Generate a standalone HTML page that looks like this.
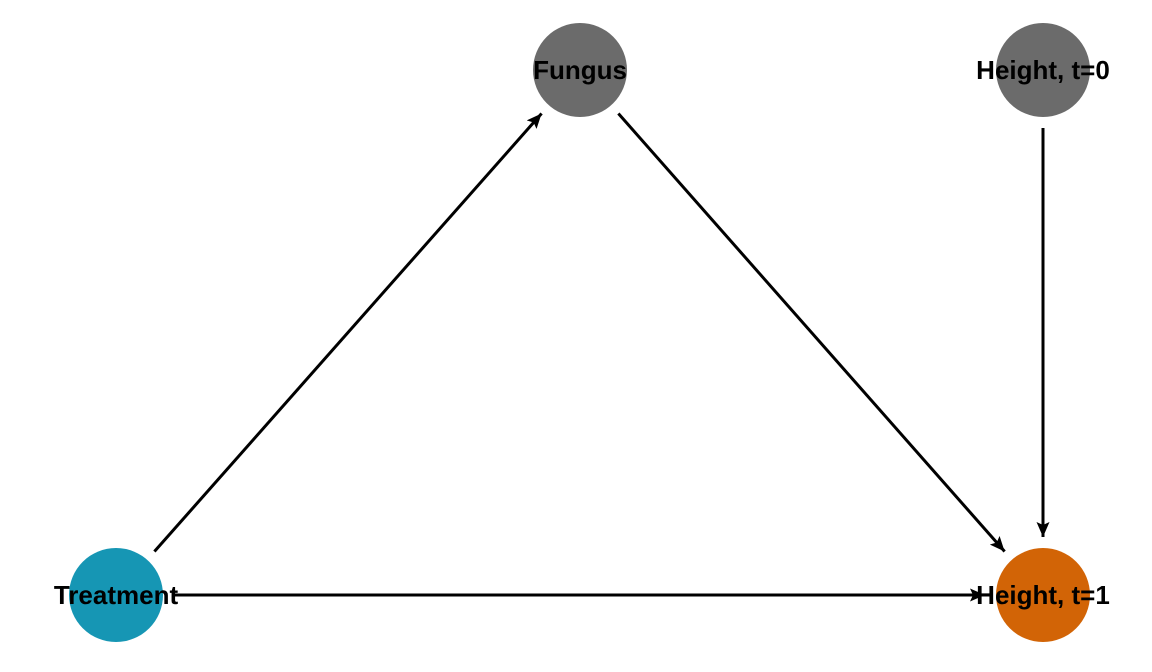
<!DOCTYPE html>
<html><head><meta charset="utf-8"><style>
html,body{margin:0;padding:0;background:#fff;}
svg{display:block;font-family:"Liberation Sans",Arial,sans-serif;}
</style></head><body>
<svg id="dag" width="1152" height="672" viewBox="0 0 1152 672">
<defs>
<marker id="arr" viewBox="0 0 10 10" refX="10" refY="5" markerWidth="15" markerHeight="13" markerUnits="userSpaceOnUse" orient="auto" preserveAspectRatio="none">
<path d="M0,0 L10,5 L0,10 L2,5 z" fill="#000"/>
</marker>
</defs>
<g id="nodes"></g><g id="edges"></g><g id="labels"></g>
</svg>
<script>
const nodeNames = ["Fungus","Height, t=0","Treatment","Height, t=1"];
const nodeX = [580,1043,116,1043];
const nodeY = [70,70,595,595];
const nodeColors = ["#6b6b6b","#6b6b6b","#1696b4","#d26406"];
const edgeFrom = [2,0,1,2];
const edgeTo = [0,3,3,3];
const R = 47, SHORT = 58;
const ns = "http://www.w3.org/2000/svg";
const gN = document.getElementById("nodes"), gE = document.getElementById("edges"), gL = document.getElementById("labels");
nodeNames.forEach((n,i)=>{
  const c = document.createElementNS(ns,"circle");
  c.setAttribute("cx",nodeX[i]); c.setAttribute("cy",nodeY[i]); c.setAttribute("r",R);
  c.setAttribute("fill",nodeColors[i]);
  
  
  gN.appendChild(c);
  const t = document.createElementNS(ns,"text");
  t.setAttribute("x",nodeX[i]); t.setAttribute("y",nodeY[i]+9);
  t.setAttribute("text-anchor","middle"); t.setAttribute("font-size","26"); t.setAttribute("font-weight","bold");
  t.textContent = n;
  
  
  gL.appendChild(t);
});
edgeFrom.forEach((f,k)=>{
  const t = edgeTo[k];
  const dx = nodeX[t]-nodeX[f], dy = nodeY[t]-nodeY[f], L = Math.hypot(dx,dy);
  const ux = dx/L, uy = dy/L;
  const l = document.createElementNS(ns,"line");
  l.setAttribute("x1",nodeX[f]+ux*SHORT); l.setAttribute("y1",nodeY[f]+uy*SHORT);
  l.setAttribute("x2",nodeX[t]-ux*SHORT); l.setAttribute("y2",nodeY[t]-uy*SHORT);
  l.setAttribute("stroke","#000"); l.setAttribute("stroke-width","3");
  l.setAttribute("marker-end","url(#arr)");
  
  
  gE.appendChild(l);
});
</script>
</body></html>
